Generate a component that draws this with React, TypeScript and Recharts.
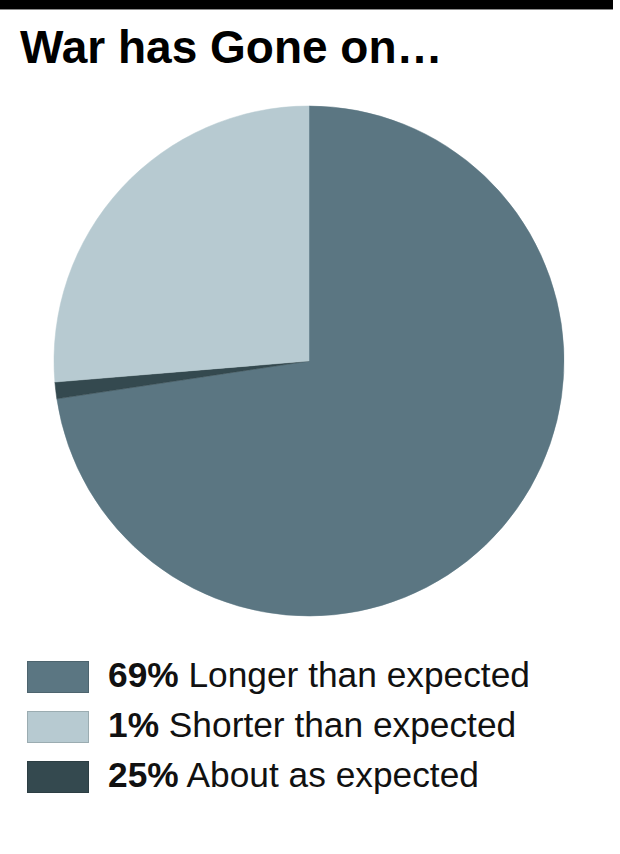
import React from "react";
import { PieChart, Pie, Cell } from "recharts";

const TITLE = "War has Gone on…";
const sliceNames = ["Longer than expected", "About as expected", "Shorter than expected"];
const sliceValues = [69, 1, 25];
const sliceColors = ["#5b7682", "#34494f", "#b7cad1"];

const legendPercents = ["69%", "1%", "25%"];
const legendLabels = ["Longer than expected", "Shorter than expected", "About as expected"];
const legendColors = ["#5b7682", "#b7cad1", "#34494f"];

const pieData = sliceNames.map((name, i) => ({ name, value: sliceValues[i] }));

const FONT = "'Liberation Sans', Arial, Helvetica, sans-serif";

export default function App() {
  return (
    <div
      style={{
        position: "absolute",
        left: 0,
        top: 0,
        width: 620,
        height: 854,
        background: "#ffffff",
        overflow: "hidden",
        fontFamily: FONT,
      }}
    >
      <div
        style={{
          position: "absolute",
          left: 0,
          top: 0,
          width: 613,
          height: 9,
          background: "#000",
          borderBottom: "1px solid #8a8a8a",
        }}
      />
      <div
        style={{
          position: "absolute",
          left: 20,
          top: 24,
          fontSize: 46,
          lineHeight: "46px",
          fontWeight: "bold",
          color: "#000",
          whiteSpace: "nowrap",
        }}
      >
        {TITLE}
      </div>
      <div style={{ position: "absolute", left: 0, top: 0 }}>
        <PieChart width={620} height={640} margin={{ top: 0, right: 0, bottom: 0, left: 0 }}>
          <Pie
            data={pieData}
            dataKey="value"
            nameKey="name"
            cx={309}
            cy={361}
            innerRadius={0}
            outerRadius={255}
            startAngle={90}
            endAngle={-270}
            stroke="none"
            isAnimationActive={false}
          >
            {pieData.map((d, i) => (
              <Cell key={d.name} fill={sliceColors[i]} stroke={sliceColors[i]} strokeWidth={0.5} />
            ))}
          </Pie>
        </PieChart>
      </div>
      {legendLabels.map((label, i) => (
        <React.Fragment key={label}>
          <div
            style={{
              position: "absolute",
              left: 27,
              top: 661 + i * 50,
              width: 60,
              height: 30,
              background: legendColors[i],
              border: "1px solid rgba(0,0,0,0.15)",
            }}
          />
          <div
            style={{
              position: "absolute",
              left: 108,
              top: 687 + i * 50 - 30,
              fontSize: 35.3,
              lineHeight: "35px",
              color: "#111",
              whiteSpace: "nowrap",
            }}
          >
            <b>{legendPercents[i]}</b> {label}
          </div>
        </React.Fragment>
      ))}
    </div>
  );
}
